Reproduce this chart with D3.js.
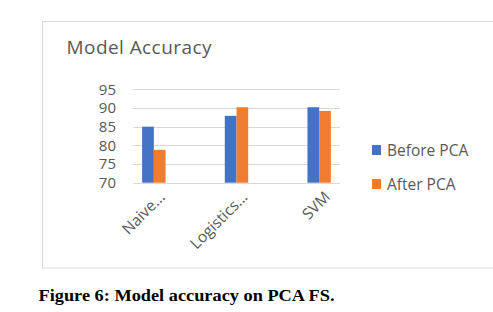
<!DOCTYPE html>
<html><head><meta charset="utf-8">
<script src="https://cdn.jsdelivr.net/npm/d3@7"></script>
<style>body{margin:0;background:#fff}svg{display:block}</style>
</head><body>
<script>
const categories = ["Naive...", "Logistics...", "SVM"];
const seriesNames = ["Before PCA", "After PCA"];
const beforePCA = [85, 87.9, 90.2];
const afterPCA = [78.8, 90.2, 89.2];
const yTicks = [70, 75, 80, 85, 90, 95];
const colors = ["#4472C4", "#ED7D31"];

const W = 493, H = 312;
const svg = d3.select("body").append("svg").attr("width", W).attr("height", H);

// chart border
svg.append("rect").attr("x", 42.5).attr("y", 21.5).attr("width", 460).attr("height", 246.5)
  .attr("fill", "#fff").attr("stroke", "#d9d9d9").attr("stroke-width", 1);

svg.append("text").attr("x", 66.5).attr("y", 54).attr("fill", "#595959")
  .attr("font-family", "Open Sans").attr("font-size", 19).attr("textLength", 145)
  .text("Model Accuracy");

const y = d3.scaleLinear().domain([70, 95]).range([182.7, 89.3]);
const x0 = d3.scaleBand().domain(categories).range([112.5, 360.5]).paddingInner(0).paddingOuter(0);
const x1 = d3.scaleBand().domain(seriesNames).range([0, 23.4]);

const grid = svg.append("g");
grid.selectAll("line").data(yTicks).join("line")
  .attr("x1", 133).attr("x2", 340)
  .attr("y1", d => Math.round(y(d)) + 0.5).attr("y2", d => Math.round(y(d)) + 0.5)
  .attr("stroke", "#d9d9d9").attr("stroke-width", 1);

const yAxis = d3.axisLeft(y).tickValues(yTicks).tickSize(0).tickPadding(0);
const ya = svg.append("g").attr("transform", "translate(116,0)").call(yAxis);
ya.select(".domain").remove();
ya.selectAll("text").attr("fill", "#595959").attr("font-family", "Open Sans").attr("font-size", 15);

const data = categories.map((c, i) => ({c, vals: [beforePCA[i], afterPCA[i]]}));
const groups = svg.append("g").selectAll("g").data(data).join("g")
  .attr("transform", d => `translate(${x0(d.c) + x0.bandwidth()/2 - 11.7},0)`);
groups.selectAll("rect").data(d => d.vals.map((v, j) => ({v, s: seriesNames[j], j})))
  .join("rect")
  .attr("x", d => x1(d.s)).attr("width", x1.bandwidth())
  .attr("y", d => y(d.v)).attr("height", d => y(70) - y(d.v))
  .attr("fill", d => colors[d.j]);

// x labels rotated
svg.append("g").selectAll("text").data(categories).join("text")
  .attr("transform", d => `translate(${x0(d) + x0.bandwidth()/2 + 12},${198}) rotate(-45)`)
  .attr("text-anchor", "end").attr("fill", "#595959")
  .attr("font-family", "Open Sans").attr("font-size", 15.5)
  .text(d => d);

// legend
const lg = svg.append("g").selectAll("g").data(seriesNames).join("g")
  .attr("transform", (d, i) => `translate(372,${145 + i * 34})`);
lg.append("rect").attr("width", 9).attr("height", 10).attr("fill", (d, i) => colors[i]);
lg.append("text").attr("x", 15).attr("y", 10.5).attr("fill", "#595959")
  .attr("font-family", "Open Sans").attr("font-size", 15.5).text(d => d);

svg.append("text").attr("x", 38.5).attr("y", 301).attr("fill", "#000")
  .attr("font-family", "Liberation Serif").attr("font-weight", "bold").attr("font-size", 17)
  .attr("textLength", 296).attr("lengthAdjust", "spacingAndGlyphs")
  .text("Figure 6: Model accuracy on PCA FS.");
</script>
</body></html>
